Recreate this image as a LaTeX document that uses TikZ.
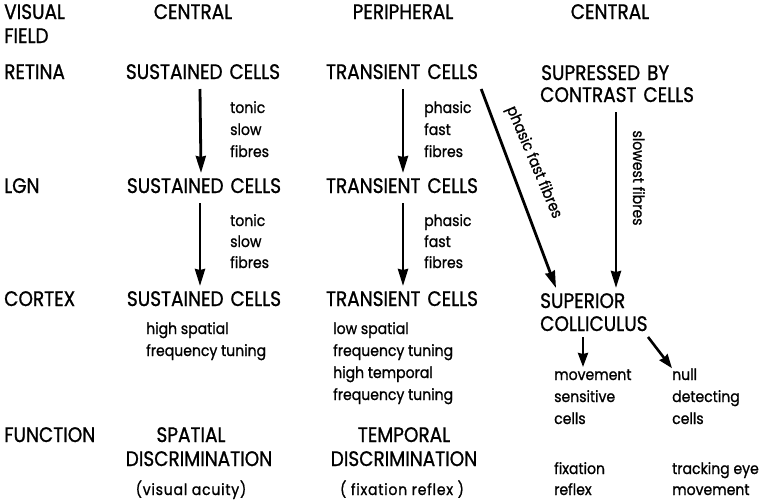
\documentclass[tikz,border=0pt]{standalone}
\usepackage{fontspec}
\setmainfont[FakeStretch=0.9,FakeBold=1]{Poppins}
\newfontfamily\capsfamily[FakeStretch=0.88,FakeBold=1,WordSpace=1.4]{Poppins}
\newfontfamily\parenfamily[FakeStretch=0.9,FakeBold=1,LetterSpace=5]{Poppins}
\usetikzlibrary{arrows.meta,calc}
\begin{document}
\begin{tikzpicture}[x=1pt,y=-1pt,
  captext/.style={inner sep=0pt,font=\capsfamily\fontsize{21}{24}\selectfont},
  capl/.style={captext,anchor=base west},
  capc/.style={captext,anchor=base},
  sm/.style={inner sep=0pt,anchor=base west,font=\fontsize{15.6}{22}\selectfont},
  paren/.style={inner sep=0pt,anchor=base,font=\parenfamily\fontsize{15.6}{22}\selectfont},
  arr/.style={line width=2.8pt,-{Stealth[length=17pt,width=10pt,inset=1pt]}},
  arrs/.style={line width=2.6pt,-{Stealth[length=14pt,width=10pt,inset=1pt]}}]
\useasboundingbox (0,0) rectangle (776,501);
% row headings
\node[capl] (vf1) at (4,19) {VISUAL};
\node[capl] (vf2) at (4,43) {FIELD};
\node[capl] (ret) at (4,79) {RETINA};
\node[capl] (lgn) at (4,193) {LGN};
\node[capl] (ctx) at (4,306) {CORTEX};
\node[capl] (fun) at (4,442) {FUNCTION};
% column headings
\node[capc] (h1) at (193,19) {CENTRAL};
\node[capc] (h2) at (403,19) {PERIPHERAL};
\node[capc] (h3) at (610,19) {CENTRAL};
% retina
\node[capc] (r1) at (203,79) {SUSTAINED CELLS};
\node[capc] (r2) at (402,79) {TRANSIENT CELLS};
\node[capl] (r3a) at (541,80) {SUPRESSED BY};
\node[capl] (r3b) at (540,102) {CONTRAST CELLS};
% lgn
\node[capc] (l1) at (204,193) {SUSTAINED CELLS};
\node[capc] (l2) at (402,193) {TRANSIENT CELLS};
% cortex
\node[capc] (c1) at (204,306) {SUSTAINED CELLS};
\node[capc] (c2) at (402,306) {TRANSIENT CELLS};
\node[capl] (sc1) at (540,308) {SUPERIOR};
\node[capl] (sc2) at (540,331) {COLLICULUS};
% fibre labels
\node[sm] (t1) at (230,113) {tonic};
\node[sm] (t2) at (230,135) {slow};
\node[sm] (t3) at (230,157) {fibres};
\node[sm] (t4) at (230,226) {tonic};
\node[sm] (t5) at (230,247) {slow};
\node[sm] (t6) at (230,268) {fibres};
\node[sm] (p1) at (424,113) {phasic};
\node[sm] (p2) at (424,135) {fast};
\node[sm] (p3) at (424,157) {fibres};
\node[sm] (p4) at (424,226) {phasic};
\node[sm] (p5) at (424,247) {fast};
\node[sm] (p6) at (424,268) {fibres};
% cortex properties
\node[sm] (hs1) at (146,334) {high spatial};
\node[sm] (hs2) at (146,356) {frequency tuning};
\node[sm] (ls1) at (333,334) {low spatial};
\node[sm] (ls2) at (333,356) {frequency tuning};
\node[sm] (ls3) at (333,378) {high temporal};
\node[sm] (ls4) at (333,400) {frequency tuning};
% colliculus outputs
\node[sm] (m1) at (554,380) {movement};
\node[sm] (m2) at (554,402) {sensitive};
\node[sm] (m3) at (554,424) {cells};
\node[sm] (n1) at (672,380) {null};
\node[sm] (n2) at (672,402) {detecting};
\node[sm] (n3) at (672,424) {cells};
% functions
\node[capc] (f1) at (191,442) {SPATIAL};
\node[capc] (f2) at (199,466) {DISCRIMINATION};
\node[paren] (f3) at (191,495) {(visual acuity)};
\node[capc] (g1) at (404,442) {TEMPORAL};
\node[capc] (g2) at (404,466) {DISCRIMINATION};
\node[paren] (g3) at (402,495) {( fixation reflex )};
\node[sm] (fx1) at (554,474) {fixation};
\node[sm] (fx2) at (554,495) {reflex};
\node[sm] (tr1) at (672,474) {tracking eye};
\node[sm] (tr2) at (672,495) {movement};
% arrows
\draw[arr] ([xshift=-3pt,yshift=-10pt]r1.base) -- ([xshift=-3pt,yshift=20pt]l1.base);
\draw[arr] ([xshift=-4pt,yshift=-10pt]l1.base) -- ([xshift=-4pt,yshift=20pt]c1.base);
\draw[arr] ([xshift=1pt,yshift=-10pt]r2.base) -- ([xshift=1pt,yshift=20pt]l2.base);
\draw[arr] ([xshift=1pt,yshift=-10pt]l2.base) -- ([xshift=1pt,yshift=20pt]c2.base);
\draw[arr] ([xshift=3pt,yshift=-10pt]r2.base east) -- ([xshift=16pt,yshift=20pt]sc1.base west);
\draw[arr] ([xshift=76pt,yshift=-10pt]r3b.base west) -- ([xshift=76pt,yshift=20pt]sc1.base west);
\draw[arrs] ([xshift=43pt,yshift=-6pt]sc2.base west) -- ([xshift=43pt,yshift=-36pt]sc2.base west);
\draw[arrs] ([xshift=108pt,yshift=-6pt]sc2.base west) -- (n1.north west);
% rotated labels
\node[sm,anchor=base,rotate=-67] (pf) at (530,164) {phasic fast fibres};
\node[sm,anchor=base,rotate=-90] (sf) at (633,178) {slowest fibres};
\end{tikzpicture}
\end{document}
